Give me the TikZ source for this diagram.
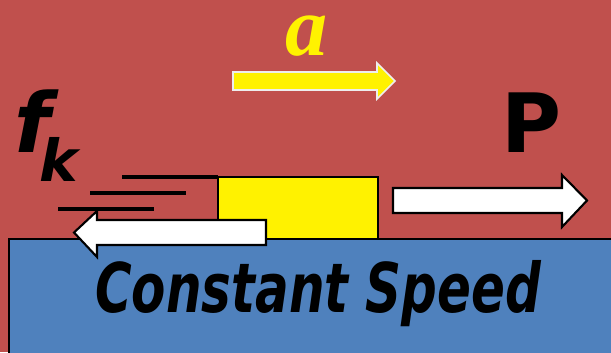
\documentclass[tikz,border=0pt]{standalone}
\usepackage{fontspec}
\newfontfamily\sansbold{DejaVu Sans}
\newfontfamily\condsans{DejaVu Sans Condensed}
\newfontfamily\timesfont{Liberation Serif}
\definecolor{slidered}{HTML}{C0504D}
\definecolor{floorblue}{HTML}{4F81BD}
\definecolor{rimgray}{HTML}{EEEEEE}

\begin{document}
\begin{tikzpicture}[x=0.02cm,y=-0.02cm,
    outline/.style={draw=black, line width=1.2pt},
    speedline/.style={line width=2.8pt}]
                % Background
                \fill[slidered] (0,0) rectangle (611,352);
                \useasboundingbox (0,0) rectangle (611,352);
                
                % Block and floor
                \draw[outline, fill=yellow] (218,177) rectangle (378,245);
                \draw[outline, fill=floorblue] (9,239) rectangle (625,365);
                
                % Speed lines behind the block
                \draw[speedline] (122,177) -- (218,177);
                \draw[speedline] (90,193) -- (186,193);
                \draw[speedline] (58,209) -- (154,209);
                
                % Applied force P
                \draw[outline, fill=white] (393,188) -- (562,188) -- (562,175) -- (587,200.5)
                    -- (562,227) -- (562,213) -- (393,213) -- cycle;
                
                % Friction force
                \draw[outline, fill=white] (266,220) -- (97,220) -- (97,211) -- (74,232.5)
                    -- (97,257) -- (97,245) -- (266,245) -- cycle;
                
                % Acceleration arrow
                \draw[draw=rimgray, line width=0.9pt, fill=yellow] (233,72) -- (377,72) -- (377,63)
                    -- (395,81) -- (377,99) -- (377,90) -- (233,90) -- cycle;
                
                % Labels
                \node[anchor=base, inner sep=0, text=yellow, text height=0.5em,
                    font=\timesfont\bfseries\itshape\fontsize{48}{48}\selectfont] (accel) at (307,55) {a};
                \node[anchor=base, inner sep=0,
                    font=\sansbold\bfseries\fontsize{46.6}{46.6}\selectfont] (force) at (531,152) {P};
                \node[anchor=base west, inner sep=0,
                    font=\sansbold\bfseries\itshape\fontsize{47}{47}\selectfont] (fric) at (14,152)
                    {f\kern-6pt\raisebox{-17pt}{\fontsize{33}{33}\selectfont k}};
                \node[anchor=base west, inner sep=0,
                    font=\condsans\bfseries\itshape\fontsize{39}{39}\selectfont] (speed) at (95,312)
                    {\scalebox{0.81}[1]{Constant Speed}};
            \end{tikzpicture}
\end{document}
